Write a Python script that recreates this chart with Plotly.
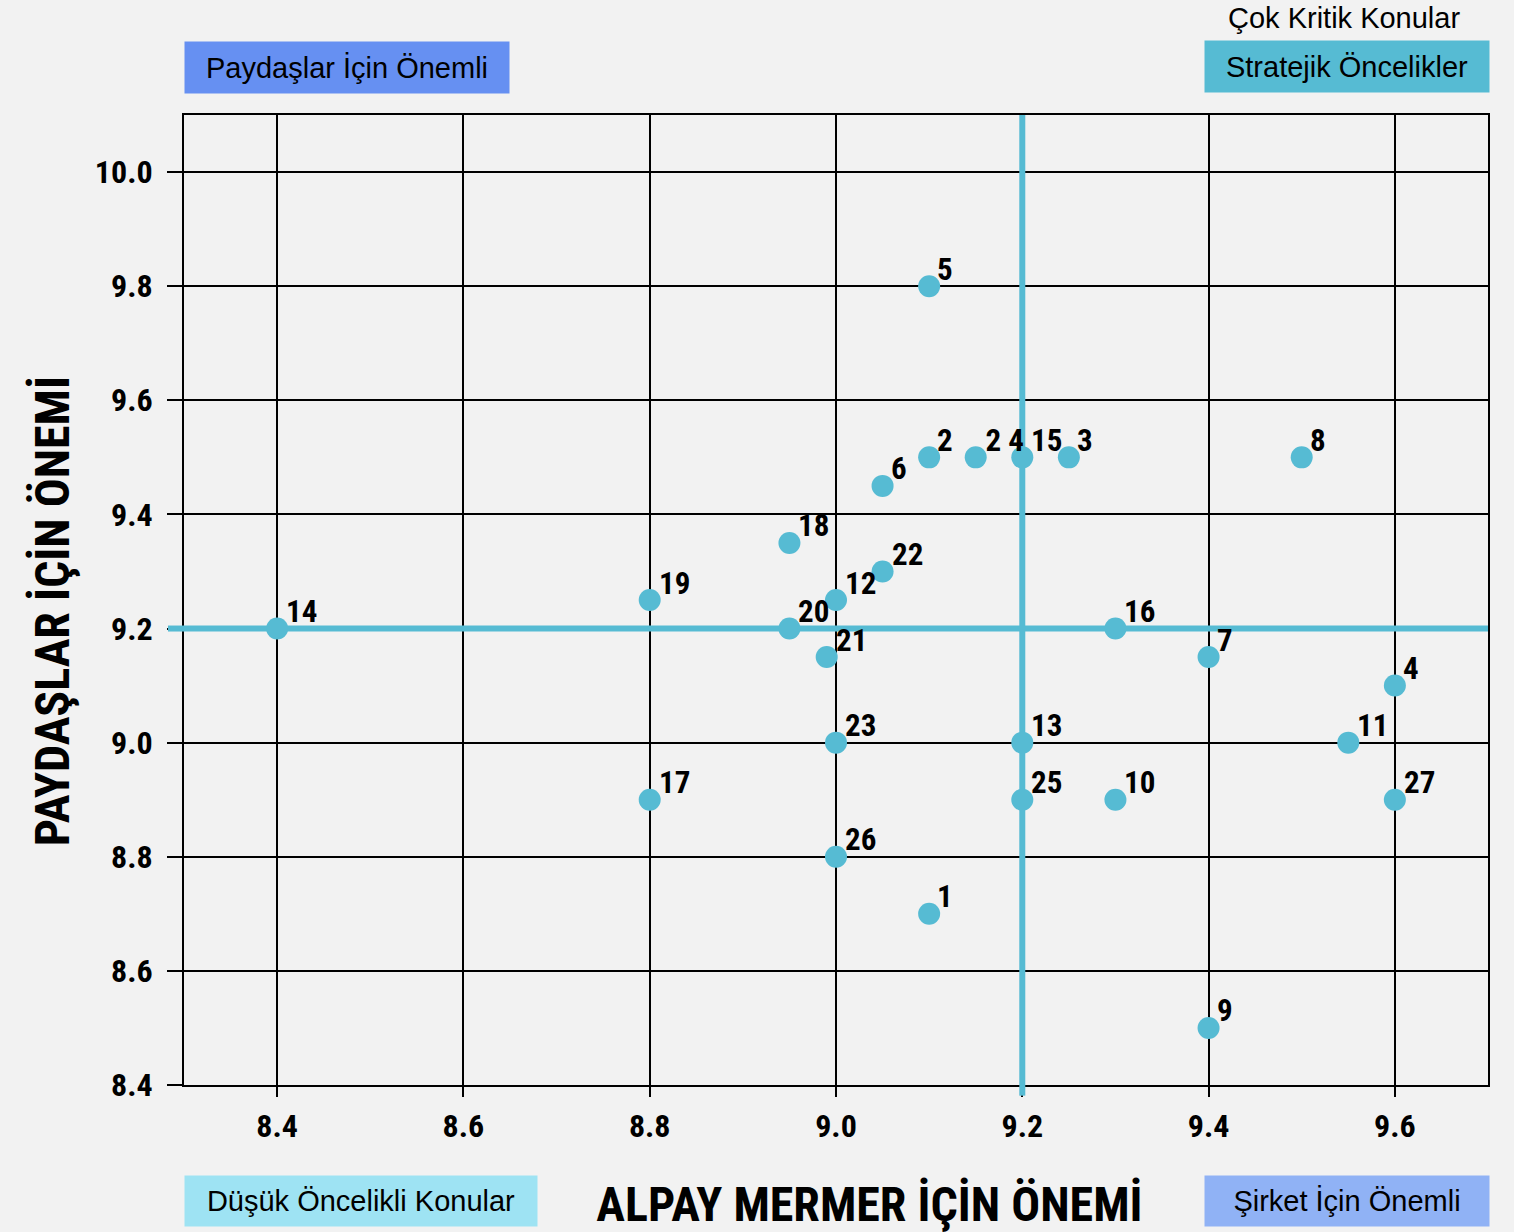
import plotly.graph_objects as go

labels = ["1", "2", "2 4", "15", "3", "4", "5", "6", "7", "8", "9", "10", "11", "12", "13",
          "14", "16", "17", "18", "19", "20", "21", "22", "23", "25", "26", "27"]
alpay = [9.1, 9.1, 9.15, 9.2, 9.25, 9.6, 9.1, 9.05, 9.4, 9.5, 9.4, 9.3, 9.55, 9.0, 9.2,
         8.4, 9.3, 8.8, 8.95, 8.8, 8.95, 8.99, 9.05, 9.0, 9.2, 9.0, 9.6]
paydas = [8.7, 9.5, 9.5, 9.5, 9.5, 9.1, 9.8, 9.45, 9.15, 9.5, 8.5, 8.9, 9.0, 9.25, 9.0,
          9.2, 9.2, 8.9, 9.35, 9.25, 9.2, 9.15, 9.3, 9.0, 8.9, 8.8, 8.9]
x_ticks = [8.4, 8.6, 8.8, 9.0, 9.2, 9.4, 9.6]
y_ticks = [8.4, 8.6, 8.8, 9.0, 9.2, 9.4, 9.6, 9.8, 10.0]
x_range = [8.3, 9.7]
y_range = [8.4, 10.1]
x_split = 9.2
y_split = 9.2

COND = "Roboto, sans-serif"
REG = "Liberation Sans, Arial, Helvetica, sans-serif"
CYAN = "#56bbd3"

fig = go.Figure()
# quadrant divider lines (inside plot area, above grid, below markers)
fig.add_trace(go.Scatter(x=[x_split, x_split], y=y_range, mode="lines",
                         line=dict(color=CYAN, width=6), hoverinfo="skip", showlegend=False))
fig.add_trace(go.Scatter(x=x_range, y=[y_split, y_split], mode="lines",
                         line=dict(color=CYAN, width=6), hoverinfo="skip", showlegend=False))
fig.add_trace(go.Scatter(
    x=alpay, y=paydas, mode="markers",
    marker=dict(size=22, color=CYAN),
    cliponaxis=False, showlegend=False,
))
for lab, xv, yv in zip(labels, alpay, paydas):
    fig.add_annotation(x=xv, y=yv, text=lab, showarrow=False, xanchor="left", yanchor="middle",
                       xshift=5, yshift=17,
                       font=dict(family=COND, size=31, color="black", weight="bold"))

# extensions of divider lines outside plot area
fig.add_shape(type="line", xref="x", yref="paper", x0=x_split, x1=x_split, y0=-0.011, y1=0,
              line=dict(color=CYAN, width=6), layer="above")
fig.add_shape(type="line", xref="paper", yref="y", x0=-0.0123, x1=0, y0=y_split, y1=y_split,
              line=dict(color=CYAN, width=6), layer="above")

def box(text, x, y, w, h, bg):
    fig.add_annotation(text=text, xref="paper", yref="paper", x=x, y=y, xanchor="left",
                       yanchor="middle", showarrow=False, width=w, height=h, bgcolor=bg,
                       align="center", valign="middle",
                       font=dict(family=REG, size=29, color="black"))

box("Paydaşlar İçin Önemli", 0.0, 1.049, 322, 49, "#6690f2")
box("Stratejik Öncelikler", 0.7822, 1.050, 282, 49, CYAN)
box("Düşük Öncelikli Konular", 0.0, -0.1196, 350, 48, "#9ee3f3")
box("Şirket İçin Önemli", 0.7822, -0.1196, 282, 48, "#90b2f5")

fig.add_annotation(text="Çok Kritik Konular", xref="paper", yref="paper", x=0.8896, y=1.100,
                   xanchor="center", yanchor="middle", showarrow=False,
                   font=dict(family=REG, size=29, color="black"))
fig.add_annotation(text="ALPAY MERMER İÇİN ÖNEMİ", xref="paper", yref="paper", x=0.526, y=-0.1227,
                   xanchor="center", yanchor="middle", showarrow=False,
                   font=dict(family=COND, size=48, color="black", weight="bold"))
fig.add_annotation(text="PAYDAŞLAR İÇİN ÖNEMİ", xref="paper", yref="paper", x=-0.1004, y=0.488,
                   xanchor="center", yanchor="middle", showarrow=False, textangle=-90,
                   font=dict(family=COND, size=48, color="black", weight="bold"))

axis_common = dict(showgrid=True, gridcolor="black", gridwidth=2, showline=True,
                   linecolor="black", linewidth=2, mirror=True, ticks="outside",
                   tickwidth=2, tickcolor="black", zeroline=False,
                   tickfont=dict(family=COND, size=32, color="black", weight="bold"))
fig.update_xaxes(range=x_range, tickvals=x_ticks, ticktext=[f"{v:.1f}" for v in x_ticks],
                 ticklen=10, ticklabelstandoff=2, **axis_common)
fig.update_yaxes(range=y_range, tickvals=y_ticks, ticktext=[f"{v:.1f}" for v in y_ticks],
                 ticklen=15, ticklabelstandoff=8, **axis_common)

fig.update_layout(width=1514, height=1232, margin=dict(l=184, r=26, t=115, b=147),
                  paper_bgcolor="#f2f2f2", plot_bgcolor="#f2f2f2", autosize=False)

post = """
document.body.style.margin = '0';
var gd = document.getElementsByClassName('plotly-graph-div')[0];
function condense(){
  document.querySelectorAll('text').forEach(function(t){
    var f = t.style.fontFamily || '';
    if (f.indexOf('Roboto') >= 0) { t.style.fontStretch = '75%'; }
  });
}
condense();
if (gd && gd.on) { gd.on('plotly_afterplot', condense); }
"""
fig.write_html("out.html", post_script=post, config={"displayModeBar": False})
